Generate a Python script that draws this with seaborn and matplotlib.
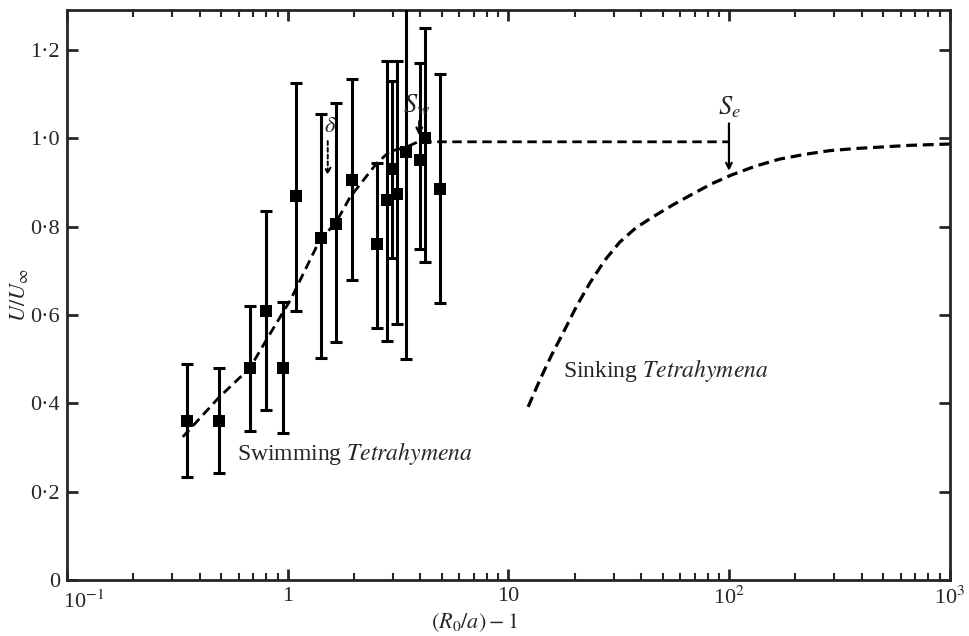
import numpy as np
import pandas as pd
import matplotlib
matplotlib.use('Agg')
import matplotlib.pyplot as plt
import seaborn as sns
from matplotlib.ticker import LogLocator, NullFormatter
from matplotlib import transforms

# Measured points (swimming Tetrahymena) with error bar ends
pt_x = [0.35, 0.49, 0.675, 0.80, 0.95, 1.09, 1.41, 1.65, 1.95, 2.54, 2.81, 2.96, 3.14, 3.45, 4.0, 4.2, 4.93]
pt_y = [0.36, 0.36, 0.48, 0.61, 0.48, 0.87, 0.775, 0.805, 0.905, 0.76, 0.86, 0.93, 0.875, 0.97, 0.95, 1.0, 0.885]
pt_hi = [0.49, 0.48, 0.62, 0.835, 0.63, 1.125, 1.055, 1.08, 1.135, 0.945, 1.175, 1.13, 1.175, 1.35, 1.17, 1.25, 1.145]
pt_lo = [0.233, 0.242, 0.337, 0.385, 0.333, 0.61, 0.503, 0.539, 0.68, 0.57, 0.54, 0.73, 0.58, 0.50, 0.75, 0.72, 0.627]

# dashed curves
swim_x = [0.335, 0.49, 0.675, 0.80, 1.03, 1.40, 1.65, 1.92, 2.54, 2.9, 3.45, 3.9, 100]
swim_y = [0.324, 0.414, 0.48, 0.543, 0.634, 0.77, 0.808, 0.867, 0.944, 0.97, 0.98, 0.992, 0.992]
sink_x = [12.3, 13.9, 15.7, 17.7, 20.4, 23.4, 27.4, 32.0, 37.8, 45.2, 55.6, 68.5, 83.5, 102.8,
          132, 170, 223, 286, 379, 482, 659, 873, 1000]
sink_y = [0.392, 0.453, 0.509, 0.559, 0.620, 0.672, 0.724, 0.765, 0.797, 0.822, 0.849, 0.874, 0.897, 0.917,
          0.937, 0.953, 0.964, 0.972, 0.977, 0.980, 0.984, 0.986, 0.987]

y_ticks = [0, 0.2, 0.4, 0.6, 0.8, 1.0, 1.2]
y_labels = ['0', '0·2', '0·4', '0·6', '0·8', '1·0', '1·2']
x_ticks = [0.1, 1, 10, 100, 1000]
x_labels = [r'10$^{-1}$', '1', '10', r'10$^{2}$', r'10$^{3}$']

sns.set_style('ticks')
plt.rcParams['font.family'] = ['Liberation Serif', 'STIXGeneral', 'DejaVu Serif']
plt.rcParams['mathtext.fontset'] = 'stix'

df = pd.DataFrame({'x': pt_x, 'y': pt_y, 'hi': pt_hi, 'lo': pt_lo})
swim = pd.DataFrame({'x': swim_x, 'y': swim_y})
sink = pd.DataFrame({'x': sink_x, 'y': sink_y})

fig = plt.figure(figsize=(9.7, 6.36), dpi=100)
ax = fig.add_axes([0.069, 0.088, 0.91, 0.896])

ax.errorbar(df.x, df.y, yerr=[df.y - df.lo, df.hi - df.y], fmt='none',
            ecolor='black', elinewidth=2.2, capsize=4.5, capthick=2.2, zorder=3)
sns.scatterplot(data=df, x='x', y='y', marker='s', s=80, color='black',
                edgecolor='black', linewidth=0, zorder=4, ax=ax)
sns.lineplot(data=swim, x='x', y='y', color='black', lw=2, sort=False, ax=ax, zorder=2)
ax.lines[-1].set_dashes([3.4, 2.0])
sns.lineplot(data=sink, x='x', y='y', color='black', lw=2.3, sort=False, ax=ax)
ax.lines[-1].set_dashes([3.4, 1.8])

ax.set_xscale('log')
ax.set_xlim(0.1, 1000)
ax.set_ylim(0, 1.29)
ax.set_xticks(x_ticks)
ax.set_xticklabels(x_labels)
ax.xaxis.set_minor_locator(LogLocator(base=10, subs=np.arange(2, 10)))
ax.xaxis.set_minor_formatter(NullFormatter())
ax.set_yticks(y_ticks)
ax.set_yticklabels(y_labels)

ax.tick_params(which='major', direction='in', length=8, width=2, top=True, right=True,
               labelsize=16, pad=5)
ax.tick_params(which='minor', direction='in', length=5, width=1.5, top=True, right=True)
for s in ax.spines.values():
    s.set_linewidth(2)

# first x label sits to the right of the spine, as in the print
lab0 = ax.get_xticklabels()[0]
lab0.set_horizontalalignment('left')
lab0.set_transform(lab0.get_transform() + transforms.ScaledTranslation(-4 / 100, -4 / 100, fig.dpi_scale_trans))

ax.set_xlabel(r'$(R_0/a)-1$', fontsize=16, labelpad=0)
ax.xaxis.set_label_coords(0.462, -0.055)
ax.set_ylabel(r'$U/U_\infty$', fontsize=16)
ax.yaxis.set_label_coords(-0.042, 0.5)

ax.text(0.59, 0.287, r'Swimming $\mathit{Tetrahymena}$', fontsize=17, va='center', ha='left')
ax.text(17.7, 0.475, r'Sinking $\mathit{Tetrahymena}$', fontsize=17, va='center', ha='left')

ax.annotate('', xy=(100, 0.92), xytext=(100, 1.04),
            arrowprops=dict(arrowstyle='->', lw=1.6, color='black'))
ax.text(100, 1.07, r'$S_e$', fontsize=19, ha='center', va='center')
ax.annotate('', xy=(3.95, 1.0), xytext=(3.95, 1.045),
            arrowprops=dict(arrowstyle='->', lw=1.6, color='black'))
ax.text(3.85, 1.075, r'$S_w$', fontsize=19, ha='center', va='center')
ax.annotate('', xy=(1.52, 0.91), xytext=(1.52, 1.0),
            arrowprops=dict(arrowstyle='->', lw=1.4, ls=(0, (2, 1.5)), color='black'))
ax.text(1.56, 1.025, r'$\delta$', fontsize=16, ha='center', va='center')

fig.savefig('out.png', dpi=100)
